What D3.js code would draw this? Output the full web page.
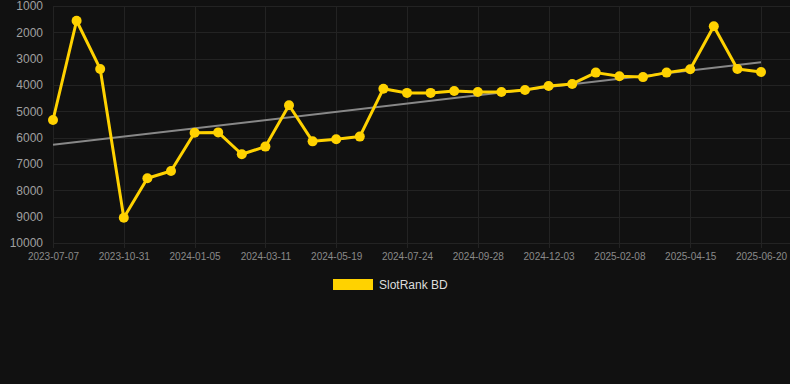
<!DOCTYPE html>
<html>
<head>
<meta charset="utf-8">
<script src="https://cdn.jsdelivr.net/npm/d3@7"></script>
<style>
  html, body { margin: 0; padding: 0; background: #111111; }
  svg { display: block; }
</style>
</head>
<body>
<svg id="chart" width="790" height="384"></svg>
<script>
const dates = [
  "2023-07-07","2023-08-15","2023-09-23","2023-10-31","2023-11-22","2023-12-14",
  "2024-01-05","2024-01-27","2024-02-18","2024-03-11","2024-04-03","2024-04-26",
  "2024-05-19","2024-06-10","2024-07-02","2024-07-24","2024-08-15","2024-09-06",
  "2024-09-28","2024-10-20","2024-11-11","2024-12-03","2024-12-25","2025-01-16",
  "2025-02-08","2025-03-02","2025-03-24","2025-04-15","2025-05-07","2025-05-29",
  "2025-06-20"
];
const ranks = [
  5330, 1560, 3390, 9040, 7540, 7265,
  5810, 5800, 6630, 6340, 4770, 6140,
  6060, 5960, 4140, 4300, 4300, 4230,
  4265, 4265, 4190, 4040, 3960, 3530,
  3670, 3700, 3530, 3405, 1770, 3390,
  3505
];
const yTicks = [1000, 2000, 3000, 4000, 5000, 6000, 7000, 8000, 9000, 10000];
const xTickLabels = dates.filter((d, i) => i % 3 === 0);
const seriesName = "SlotRank BD";

(function () {
const svg = d3.select("#chart");
const mLeft = 53, mRight = 761, mTop = 6, mBottom = 243;
const font = "Liberation Sans, Arial, sans-serif";

const x = d3.scalePoint().domain(dates).range([mLeft, mRight]);
const y = d3.scaleLinear().domain([1000, 10000]).range([mTop, mBottom]);

// grid
const grid = svg.append("g");
grid.selectAll("line.h").data(yTicks).join("line")
  .attr("x1", mLeft).attr("x2", 790)
  .attr("y1", d => Math.round(y(d)) + 0.5).attr("y2", d => Math.round(y(d)) + 0.5)
  .attr("stroke", "#232323").attr("stroke-width", 1);
grid.selectAll("line.v").data(xTickLabels).join("line")
  .attr("x1", d => Math.round(x(d)) + 0.5).attr("x2", d => Math.round(x(d)) + 0.5)
  .attr("y1", mTop).attr("y2", mBottom + 5)
  .attr("stroke", "#232323").attr("stroke-width", 1);

// y axis
const yAxis = d3.axisLeft(y).tickValues(yTicks).tickSize(0).tickPadding(10).tickFormat(d3.format("d"));
svg.append("g").attr("transform", `translate(${mLeft},0)`).call(yAxis)
  .call(g => g.select(".domain").remove())
  .selectAll("text")
  .attr("fill", "#a0a0a0").attr("font-family", font).attr("font-size", 12);

// x axis
const xAxis = d3.axisBottom(x).tickValues(xTickLabels).tickSize(0).tickPadding(10);
svg.append("g").attr("transform", `translate(0,${mBottom})`).call(xAxis)
  .call(g => g.select(".domain").remove())
  .selectAll("text")
  .attr("fill", "#8a8a8a").attr("font-family", font).attr("font-size", 10);

// trend line (least squares on index)
const n = ranks.length;
const xs = d3.range(n);
const mx = d3.mean(xs), my = d3.mean(ranks);
const slope = d3.sum(xs, i => (i - mx) * (ranks[i] - my)) / d3.sum(xs, i => (i - mx) ** 2);
const icpt = my - slope * mx;
svg.append("line")
  .attr("x1", x(dates[0])).attr("y1", y(icpt))
  .attr("x2", x(dates[n - 1])).attr("y2", y(icpt + slope * (n - 1)))
  .attr("stroke", "#888888").attr("stroke-width", 2);

// series line
const line = d3.line().x((d, i) => x(dates[i])).y(d => y(d));
svg.append("path").datum(ranks)
  .attr("d", line).attr("fill", "none")
  .attr("stroke", "#FFD200").attr("stroke-width", 3).attr("stroke-linejoin", "round");

svg.append("g").selectAll("circle").data(ranks).join("circle")
  .attr("cx", (d, i) => x(dates[i])).attr("cy", d => y(d))
  .attr("r", 5).attr("fill", "#FFD200");

// legend
const lg = svg.append("g");
lg.append("rect").attr("x", 333).attr("y", 279).attr("width", 40).attr("height", 11).attr("fill", "#FFD200");
lg.append("text").attr("x", 379).attr("y", 289).text(seriesName)
  .attr("fill", "#dddddd").attr("font-family", font).attr("font-size", 12);
})();
</script>
</body>
</html>
